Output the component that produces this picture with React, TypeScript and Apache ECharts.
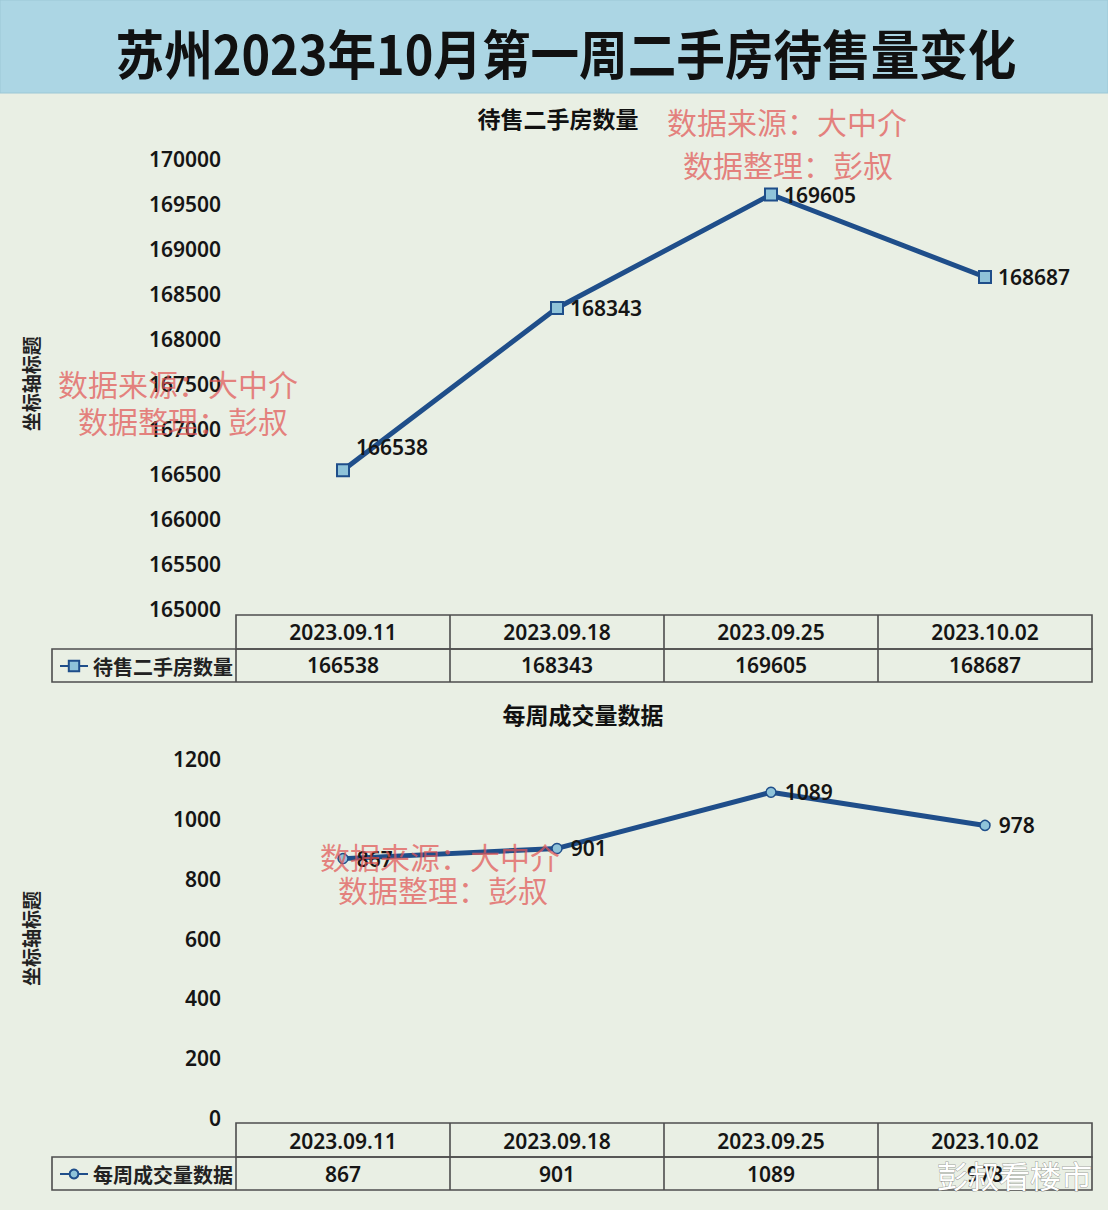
import React, { useEffect, useRef } from "react";
import * as echarts from "echarts";

const categories = ["2023.09.11", "2023.09.18", "2023.09.25", "2023.10.02"];
const listingCounts = [166538, 168343, 169605, 168687];
const weeklyDeals = [867, 901, 1089, 978];
const listingAxis = { min: 165000, max: 170000, interval: 500 };
const dealAxis = { min: 0, max: 1200, interval: 200 };
const mainTitle = "苏州2023年10月第一周二手房待售量变化";
const chart1Title = "待售二手房数量";
const chart2Title = "每周成交量数据";
const axisName = "坐标轴标题";
const wm1 = "数据来源：大中介";
const wm2 = "数据整理：彭叔";
const brand = "彭叔看楼市";

const W = 1108;
const H = 1210;
const GL = 236;
const GR = 1092;
const G1 = { top: 159, bottom: 608.5, tTop: 615, tMid: 649, tBot: 682 };
const G2 = { top: 759, bottom: 1118, tTop: 1123, tMid: 1157, tBot: 1190 };
const LINE = "#1f4e8a";
const MARK = "#8fc3d9";
const BORDER = "#4d4d4d";
const FONT = "'Noto Sans', 'Noto Sans CJK SC', sans-serif";
const CJK = "'Noto Sans CJK SC', 'Noto Sans', sans-serif";
const WM_COLOR = "rgba(226, 86, 86, 0.72)";

function tableGraphics(g: typeof G1) {
  const n = categories.length;
  const cw = (GR - GL) / n;
  const els: any[] = [
    { type: "rect", shape: { x: GL, y: g.tTop, width: GR - GL, height: g.tMid - g.tTop }, style: { fill: "none", stroke: BORDER, lineWidth: 1.6 } },
    { type: "rect", shape: { x: 52, y: g.tMid, width: GR - 52, height: g.tBot - g.tMid }, style: { fill: "none", stroke: BORDER, lineWidth: 1.6 } },
    { type: "line", shape: { x1: GL, y1: g.tMid, x2: GL, y2: g.tBot }, style: { stroke: BORDER, lineWidth: 1.6 } },
  ];
  for (let i = 1; i < n; i++) {
    els.push({ type: "line", shape: { x1: GL + cw * i, y1: g.tTop, x2: GL + cw * i, y2: g.tBot }, style: { stroke: BORDER, lineWidth: 1.6 } });
  }
  return els;
}

function wmText(text: string, x: number, y: number, size = 30) {
  return {
    type: "text",
    z: 100,
    x,
    y,
    style: { text, fill: WM_COLOR, fontSize: size, fontFamily: CJK, fontWeight: 400, align: "left", verticalAlign: "middle" },
  };
}

export default function App() {
  const ref = useRef<HTMLDivElement>(null);
  useEffect(() => {
    if (!ref.current) return;
    const chart = echarts.init(ref.current, undefined, { renderer: "svg", width: W, height: H });
    const labelStyle = { fontFamily: FONT, fontSize: 21, fontWeight: 600, color: "#151515" };
    const yAxisCommon = {
      type: "value",
      axisLine: { show: false },
      axisTick: { show: false },
      splitLine: { show: false },
      axisLabel: { ...labelStyle, margin: 15, formatter: (v: number) => String(v) },
      name: axisName,
      nameLocation: "middle",
      nameRotate: 90,
      nameGap: 196,
      nameTextStyle: { fontFamily: CJK, fontSize: 19, fontWeight: 700, color: "#222" },
    };
    const xAxisCommon = {
      type: "category",
      data: categories,
      position: "bottom",
      boundaryGap: true,
      axisLine: { show: false, onZero: false },
      axisTick: { show: false },
      splitLine: { show: false },
    };
    const option: any = {
      animation: false,
      backgroundColor: "#e9efe4",
      title: [
        { text: chart1Title, left: 553, top: 101, textAlign: "center", textStyle: { fontFamily: CJK, fontSize: 23, fontWeight: 700, color: "#111" } },
        { text: chart2Title, left: 578, top: 697, textAlign: "center", textStyle: { fontFamily: CJK, fontSize: 23, fontWeight: 700, color: "#111" } },
      ],
      legend: [
        { data: [chart1Title], left: 54, top: 651, itemWidth: 28, itemHeight: 13, textStyle: { fontFamily: CJK, fontSize: 20, fontWeight: 700, color: "#222" } },
        { data: [chart2Title], left: 54, top: 1159, itemWidth: 28, itemHeight: 11, textStyle: { fontFamily: CJK, fontSize: 20, fontWeight: 700, color: "#222" } },
      ],
      grid: [
        { left: GL, right: W - GR, top: G1.top, height: G1.bottom - G1.top, containLabel: false },
        { left: GL, right: W - GR, top: G2.top, height: G2.bottom - G2.top, containLabel: false },
      ],
      xAxis: [
        { ...xAxisCommon, gridIndex: 0, axisLabel: { ...labelStyle, margin: 13 } },
        { ...xAxisCommon, gridIndex: 0, axisLabel: { ...labelStyle, margin: 46, formatter: (_v: string, i: number) => String(listingCounts[i]) } },
        { ...xAxisCommon, gridIndex: 1, axisLabel: { ...labelStyle, margin: 12 } },
        { ...xAxisCommon, gridIndex: 1, axisLabel: { ...labelStyle, margin: 45, formatter: (_v: string, i: number) => String(weeklyDeals[i]) } },
      ],
      yAxis: [
        { ...yAxisCommon, gridIndex: 0, ...listingAxis },
        { ...yAxisCommon, gridIndex: 1, ...dealAxis },
      ],
      series: [
        {
          name: chart1Title,
          type: "line",
          xAxisIndex: 0,
          yAxisIndex: 0,
          data: listingCounts.map((v, i) => (i === 0 ? { value: v, label: { offset: [0, -23] } } : v)),
          symbol: "rect",
          symbolSize: 12,
          lineStyle: { color: LINE, width: 5 },
          itemStyle: { color: MARK, borderColor: LINE, borderWidth: 2 },
          label: { show: true, position: "right", distance: 6, ...labelStyle },
          z: 5,
        },
        {
          name: chart2Title,
          type: "line",
          xAxisIndex: 2,
          yAxisIndex: 1,
          data: weeklyDeals,
          symbol: "circle",
          symbolSize: 10,
          lineStyle: { color: LINE, width: 5 },
          itemStyle: { color: MARK, borderColor: LINE, borderWidth: 1.5 },
          label: { show: true, position: "right", distance: 8, ...labelStyle },
          z: 5,
        },
      ],
      graphic: [
        { type: "rect", z: -1, shape: { x: 0, y: 0, width: W, height: 93 }, style: { fill: "#acd6e4", stroke: "#9cc8d6", lineWidth: 1 } },
        {
          type: "text",
          x: 566,
          y: 51,
          scaleX: 0.9,
          style: { text: mainTitle, fill: "#111", fontSize: 54, fontFamily: CJK, fontWeight: 700, align: "center", verticalAlign: "middle" },
        },
        ...tableGraphics(G1),
        ...tableGraphics(G2),
        wmText(wm1, 667, 121),
        wmText(wm2, 683, 164),
        wmText(wm1, 58, 383),
        wmText(wm2, 78, 420),
        wmText(wm1, 320, 856),
        wmText(wm2, 338, 889),
        {
          type: "text",
          z: 101,
          x: 1092,
          y: 1174,
          style: { text: brand, fill: "#ffffff", fontSize: 31, fontFamily: CJK, fontWeight: 400, align: "right", verticalAlign: "middle", stroke: "rgba(90,90,90,0.55)", lineWidth: 1 },
        },
      ],
    };
    chart.setOption(option);
    return () => chart.dispose();
  }, []);
  return <div ref={ref} style={{ position: "absolute", left: 0, top: 0, width: W, height: H }} />;
}
